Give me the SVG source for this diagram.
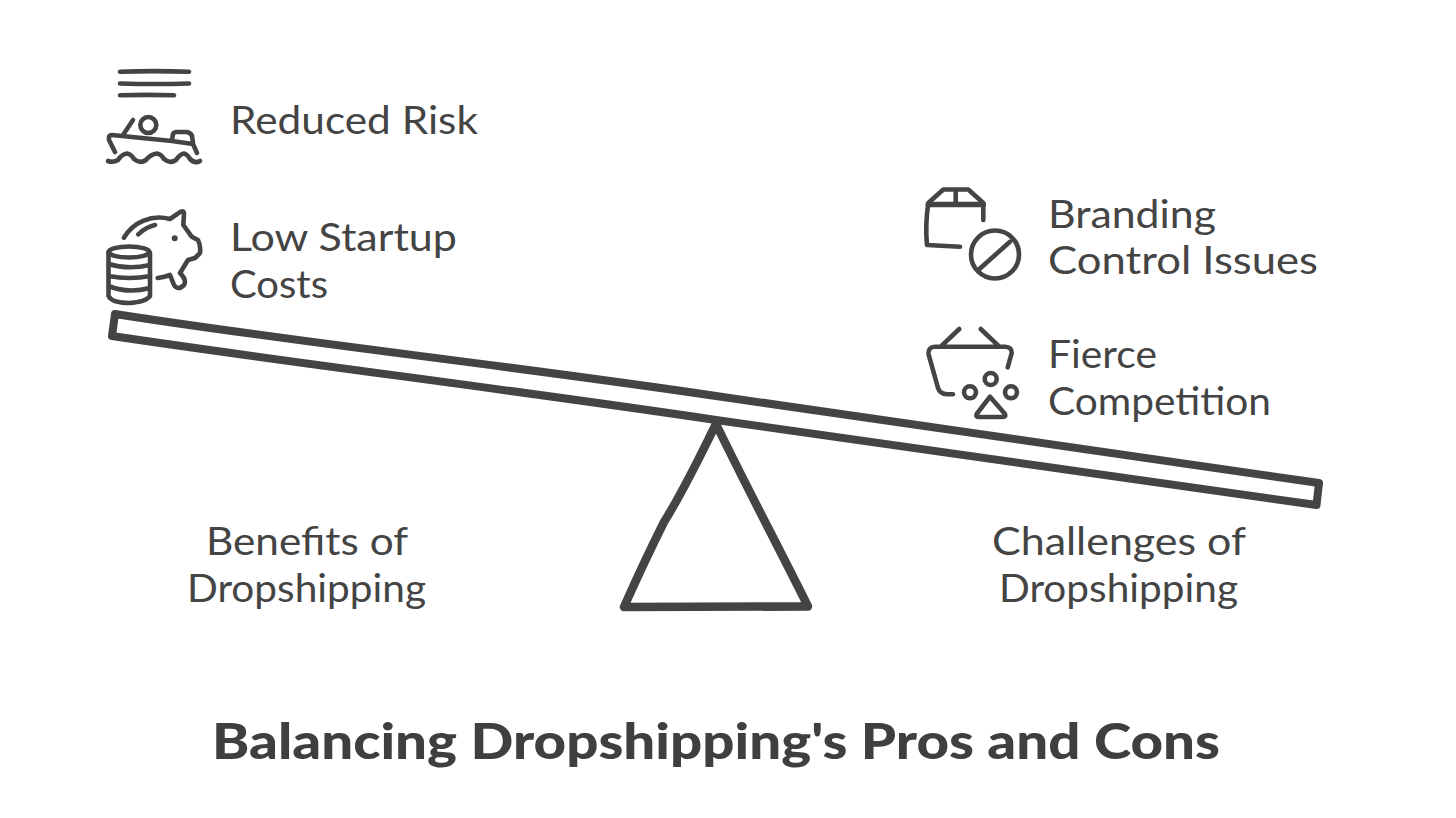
<svg xmlns="http://www.w3.org/2000/svg" width="1456" height="818" viewBox="0 0 1456 818">
<style>
text{font-family:"Lato","Noto Sans",sans-serif;font-size:38px;fill:#444}
.title{font-size:50px;font-weight:900;fill:#3f3f3f}
.i{fill:none;stroke:#444;stroke-width:4.600;stroke-linecap:round;stroke-linejoin:round}
.s{fill:#fff;stroke:#444;stroke-width:8;stroke-linecap:round;stroke-linejoin:round}
</style>
<rect width="1456" height="818" fill="#fff"/>
<g id="seesaw">
<path class="s" style="stroke-width:8.500" d="M716 424C700 456 684 490 664 522C650 550 636 580 624 607L808 606.500C780 550 745 484 716 424Z"/>
<path class="s" d="M115 314C300 343 500 364 716 396C920 426 1120 455 1319 483L1316.500 505C1120 477 920 450 716 420C500 388 300 364 112 336Z"/>
</g>
<g id="reduced-risk">
<path class="i" d="M120 71.700Q155 70.500 189 71.700M120 83.500Q155 84.500 189 83.500M120 95.300Q147 94.500 174 95.300"/>
<circle class="i" cx="148.300" cy="125" r="8"/>
<path class="i" d="M123 135L133 120M115 152L109 140Q108 135 112 135L172 141L193 144L197 153M172 140L173 134Q174 132 177 132L187 132Q191 133 192 136L193 143M108 161Q113 163 118 160Q122 154 127 153.500Q131 154 134 159Q140 164 146 160Q151 154 157 153.500Q161 154 164 159Q170 164 176 160Q180 154 184 153.500Q187 154 190 159Q195 164 200 161"/>
<text x="230" y="134" textLength="248" lengthAdjust="spacingAndGlyphs">Reduced Risk</text>
</g>
<g id="low-startup-costs">
<path class="i" d="M124 237.700C133 222 152 214 170 219L180.700 211.700Q184 210 184 214L183.300 225L191.700 236.700L198 240Q201 246 200 253L195 258L188 260L180 273Q187 280 184 285Q178 291 174 285L170 275Q165 277 157.700 278M138.300 234.300Q146 227 155 225"/>
<circle cx="174.700" cy="238.300" r="3" fill="#444"/>
<ellipse class="i" cx="129" cy="252" rx="20.500" ry="5.500"/>
<path class="i" d="M108.500 253L108.500 296Q112 303 129 303Q146 302 150 296L150 253M108.500 264Q128 270 150 265M108.500 276Q130 280 150 276M108.500 286Q128 294 150 288"/>
<text x="230" y="251" textLength="227" lengthAdjust="spacingAndGlyphs">Low Startup</text>
<text x="230" y="298" textLength="98" lengthAdjust="spacingAndGlyphs">Costs</text>
</g>
<g id="branding-control">
<path class="i" d="M928.300 203L943.300 189.500L968.300 189.500L983.300 203M955.700 189.500L955.700 204M983.300 204L983.300 220M928.300 203Q925 225 927 245L960 246.700"/>
<path class="i" style="stroke-width:5.500" d="M928.300 204.500L983.300 204.500"/>
<circle class="i" cx="995" cy="254.500" r="24"/>
<path class="i" d="M978.300 270L1010 241.700"/>
<text x="1048" y="228" textLength="168" lengthAdjust="spacingAndGlyphs">Branding</text>
<text x="1048" y="274" textLength="270" lengthAdjust="spacingAndGlyphs">Control Issues</text>
</g>
<g id="fierce-competition">
<path class="i" d="M941.700 345.700L959.300 329M998.300 345.700L980.700 329M1007.700 367.300L1011.700 353Q1012 347 1005 346.700L935 346.700Q928 347 928.500 354L938 388Q940 394 947 394.300L953 394.300"/>
<circle class="i" cx="990.700" cy="379" r="6"/>
<circle class="i" cx="970" cy="392.300" r="6"/>
<circle class="i" cx="1011" cy="392.300" r="6"/>
<path class="i" d="M990 396.700L976.700 414Q975.500 417 979 417L1003 417Q1006 417 1005 414Z"/>
<text x="1048" y="368" textLength="109" lengthAdjust="spacingAndGlyphs">Fierce</text>
<text x="1048" y="415" textLength="223" lengthAdjust="spacingAndGlyphs">Competition</text>
</g>
<g id="benefits-label">
<text x="206" y="555" textLength="202" lengthAdjust="spacingAndGlyphs">Benefits of</text>
<text x="187" y="602" textLength="239" lengthAdjust="spacingAndGlyphs">Dropshipping</text>
</g>
<g id="challenges-label">
<text x="992" y="555" textLength="254" lengthAdjust="spacingAndGlyphs">Challenges of</text>
<text x="999" y="602" textLength="239" lengthAdjust="spacingAndGlyphs">Dropshipping</text>
</g>
<g id="connectors"></g>
<text class="title" x="212" y="759" textLength="1008" lengthAdjust="spacingAndGlyphs">Balancing Dropshipping's Pros and Cons</text>
</svg>
